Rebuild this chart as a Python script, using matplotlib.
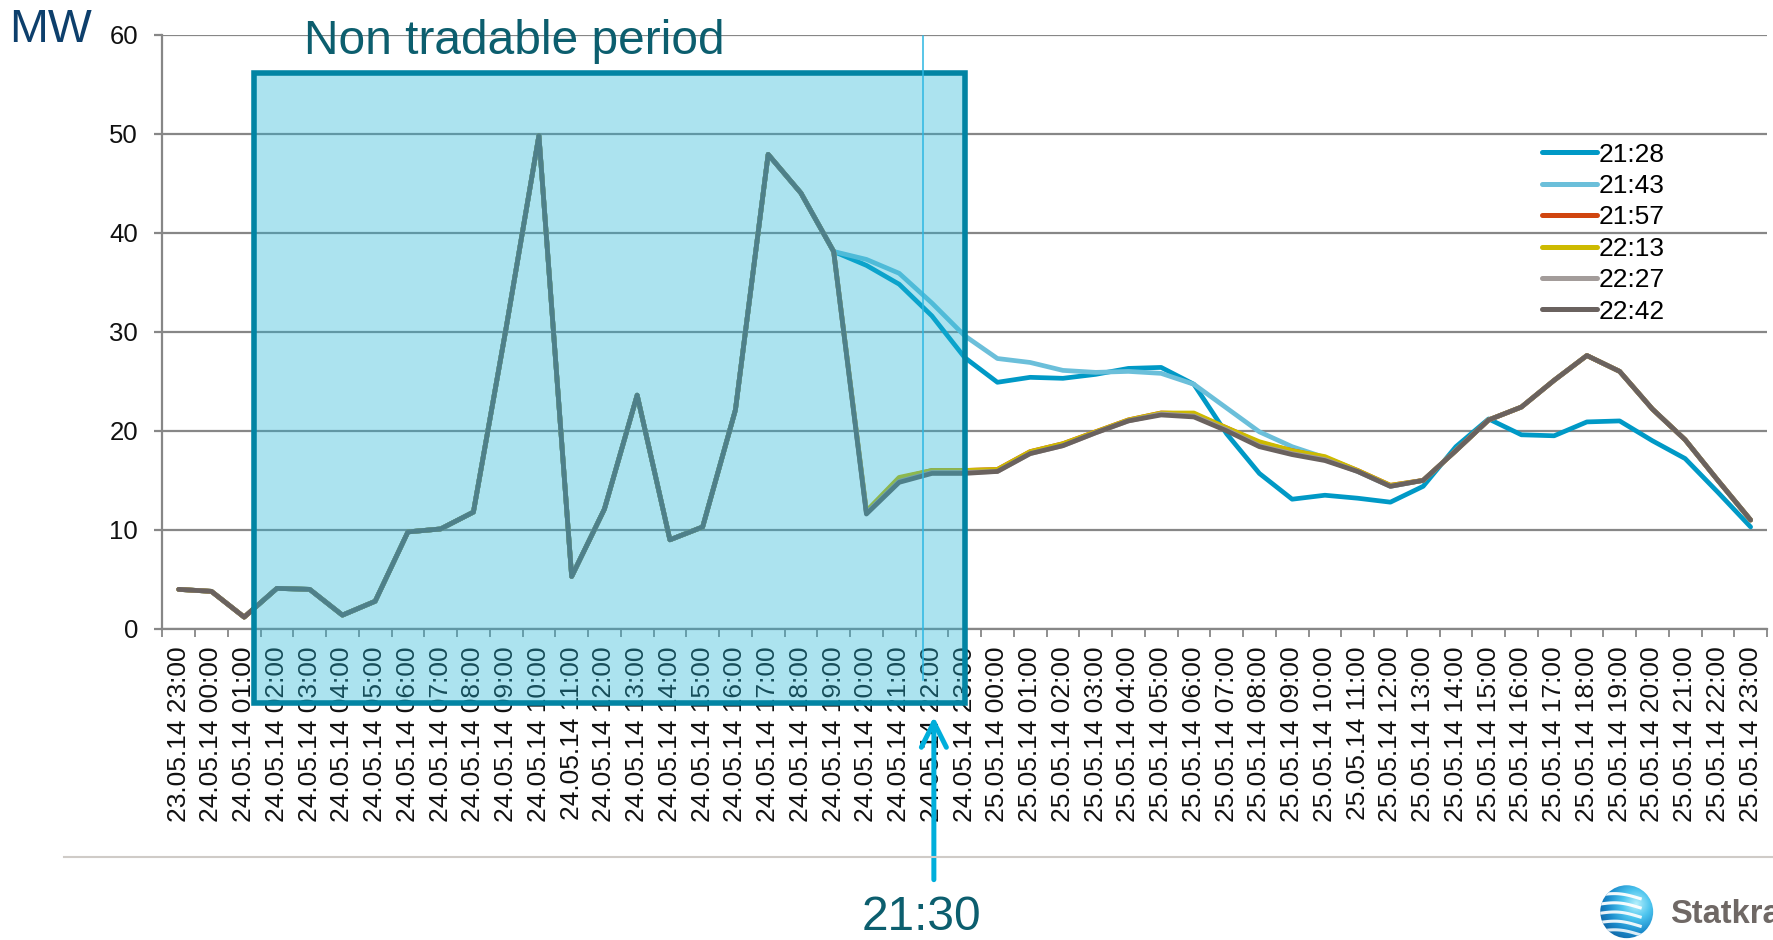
import matplotlib
matplotlib.use('Agg')
import matplotlib.pyplot as plt
import numpy as np
from matplotlib.patches import Rectangle, Circle
from matplotlib.colors import LinearSegmentedColormap

plt.rcParams['font.family'] = ['Liberation Sans', 'DejaVu Sans']

# ---------------- data ----------------
time_labels = (['23.05.14 23:00']
               + ['24.05.14 %02d:00' % h for h in range(24)]
               + ['25.05.14 %02d:00' % h for h in range(24)])

series_names = ['21:28', '21:43', '21:57', '22:13', '22:27', '22:42']
series_colors = ['#0099C6', '#6BBFDA', '#D0450F', '#CDBA00', '#A39C9A', '#6A625F']

s_2128 = [4.0, 3.8, 1.2, 4.1, 4.0, 1.4, 2.8, 9.8, 10.1, 11.8, 30.4, 49.8, 5.3, 12.1,
          23.6, 9.0, 10.3, 22.1, 47.9, 44.0, 38.1,
          36.7, 34.8, 31.6, 27.4, 24.9, 25.4, 25.3, 25.7, 26.3, 26.4, 24.7, 19.7, 15.7,
          13.1, 13.5, 13.2, 12.8, 14.4, 18.4, 21.2, 19.6, 19.5, 20.9, 21.0, 19.0, 17.2,
          13.8, 10.3]
s_2143 = [4.0, 3.8, 1.2, 4.1, 4.0, 1.4, 2.8, 9.8, 10.1, 11.8, 30.4, 49.8, 5.3, 12.1,
          23.6, 9.0, 10.3, 22.1, 47.9, 44.0, 38.1,
          37.3, 35.9, 32.9, 29.6, 27.3, 26.9, 26.1, 25.9, 26.0, 25.8, 24.7, 22.3, 19.9,
          18.4, 17.3, 15.9, 14.4, 15.0, 18.0, 21.1, 22.4, 25.1, 27.6, 26.0, 22.2, 19.1,
          15.0, 11.0]
s_2157 = [4.0, 3.8, 1.2, 4.1, 4.0, 1.4, 2.8, 9.8, 10.1, 11.8, 30.4, 49.8, 5.3, 12.1,
          23.6, 9.0, 10.3, 22.1, 47.9, 44.0, 38.1,
          11.8, 15.2, 16.0, 16.0, 16.1, 17.9, 18.7, 19.9, 21.1, 21.8, 21.7, 20.3, 18.8,
          18.0, 17.3, 16.0, 14.5, 15.0, 18.0, 21.1, 22.4, 25.1, 27.6, 26.0, 22.2, 19.1,
          15.0, 11.0]
s_2213 = [4.0, 3.8, 1.2, 4.1, 4.0, 1.4, 2.8, 9.8, 10.1, 11.8, 30.4, 49.8, 5.3, 12.1,
          23.6, 9.0, 10.3, 22.1, 47.9, 44.0, 38.1,
          11.9, 15.3, 16.0, 16.0, 16.1, 17.9, 18.7, 19.9, 21.1, 21.8, 21.8, 20.3, 18.9,
          18.0, 17.4, 16.0, 14.5, 15.0, 18.0, 21.1, 22.4, 25.1, 27.6, 26.0, 22.2, 19.1,
          15.0, 11.0]
s_2227 = [4.0, 3.8, 1.2, 4.1, 4.0, 1.4, 2.8, 9.8, 10.1, 11.8, 30.4, 49.8, 5.3, 12.1,
          23.6, 9.0, 10.3, 22.1, 47.9, 44.0, 38.1,
          11.7, 14.9, 15.8, 15.8, 15.9, 17.7, 18.5, 19.8, 21.0, 21.7, 21.5, 20.1, 18.5,
          17.7, 17.1, 15.9, 14.4, 15.0, 18.0, 21.1, 22.4, 25.1, 27.6, 26.0, 22.2, 19.1,
          15.0, 11.0]
s_2242 = [4.0, 3.8, 1.2, 4.1, 4.0, 1.4, 2.8, 9.8, 10.1, 11.8, 30.4, 49.8, 5.3, 12.1,
          23.6, 9.0, 10.3, 22.1, 47.9, 44.0, 38.1,
          11.6, 14.8, 15.7, 15.7, 15.9, 17.7, 18.5, 19.8, 21.0, 21.6, 21.4, 20.0, 18.4,
          17.6, 17.0, 15.9, 14.4, 15.0, 18.0, 21.1, 22.4, 25.1, 27.6, 26.0, 22.2, 19.1,
          15.0, 11.0]
all_series = [s_2128, s_2143, s_2157, s_2213, s_2227, s_2242]

y_ticks = [0, 10, 20, 30, 40, 50, 60]

# annotation geometry (data coordinates)
box_x0, box_x1 = 2.3, 24.0
box_y0, box_y1 = -7.47, 56.1
now_x = 22.74
arrow_x = 23.06

# ---------------- figure ----------------
W, H = 1773, 940
fig = plt.figure(figsize=(W / 100, H / 100), dpi=100)
ax = fig.add_axes([162.3 / W, 1 - 629 / H, (1767 - 162.3) / W, (629 - 34.5) / H])

GRID = '#878787'
x = np.arange(len(time_labels))
for name, vals, col in zip(series_names, all_series, series_colors):
    ax.plot(x, vals, color=col, lw=3.4, label=name, zorder=3,
            solid_joinstyle='round', solid_capstyle='round')

ax.set_xlim(-0.5, len(time_labels) - 0.5)
ax.set_ylim(0, 60)
ax.set_yticks(y_ticks)
ax.yaxis.grid(True, color=GRID, lw=1.6)
ax.set_axisbelow(True)
for s in ['top', 'right']:
    ax.spines[s].set_visible(False)
for s in ['left', 'bottom']:
    ax.spines[s].set_color(GRID)
    ax.spines[s].set_linewidth(1.6)

ax.set_xticks(x)
ax.set_xticklabels(time_labels, rotation=90, fontsize=19, color='#111111')
ax.set_xticks(np.arange(-0.5, len(time_labels), 1), minor=True)
ax.tick_params(axis='x', which='major', length=0, pad=12.5)
ax.tick_params(axis='x', which='minor', length=5.5, width=1.3, color=GRID)
ax.tick_params(axis='y', length=5.5, width=1.6, color=GRID, pad=12, labelsize=18.5,
               labelcolor='#111111')

# legend
leg = ax.legend(loc='upper left', bbox_to_anchor=(1541.7 / W, 1 - 142.6 / H),
                bbox_transform=fig.transFigure, frameon=False, fontsize=19,
                handlelength=2.08, handletextpad=0.09, labelspacing=0.28,
                borderpad=0, borderaxespad=0)
for lh in leg.get_lines():
    lh.set_linewidth(3.6)

# non tradable period box (overlay)
ax.add_patch(Rectangle((box_x0, box_y0), box_x1 - box_x0, box_y1 - box_y0,
                       facecolor='#20B5D6', alpha=0.37, edgecolor='none',
                       zorder=5, clip_on=False))
ax.add_patch(Rectangle((box_x0, box_y0), box_x1 - box_x0, box_y1 - box_y0,
                       fill=False, edgecolor='#0284A3', lw=4, zorder=6,
                       clip_on=False, joinstyle='miter'))

# current time line and arrow
ax.plot([now_x, now_x], [-5.15, 59.8], color='#2BB7E2', lw=1.1, zorder=7, clip_on=False)
ax.annotate('', xy=(arrow_x, -8.85), xytext=(arrow_x, -25.3),
            arrowprops=dict(arrowstyle='->,head_length=0.9,head_width=0.45',
                            color='#00AEDB', lw=3.6, mutation_scale=20,
                            shrinkA=0, shrinkB=0),
            annotation_clip=False, zorder=7)

# texts
fig.text(9 / W, 1 - 42 / H, 'MW', fontsize=33.5, color='#0D3F6C', ha='left', va='baseline')
fig.text(304 / W, 1 - 53.5 / H, 'Non tradable period', fontsize=34.5, color='#0C5E6E',
         ha='left', va='baseline')
fig.text(921.5 / W, 1 - 930 / H, '21:30', fontsize=34.5, color='#0C5E6E',
         ha='center', va='baseline')

# separator line
fig.add_artist(plt.Line2D([64 / W, 1.0], [1 - 856.7 / H, 1 - 856.7 / H],
                          transform=fig.transFigure, color='#CFCBC7', lw=1.5))

# Statkraft logo
lax = fig.add_axes([1599.7 / W, 1.3 / H, 54 / W, 54 / H])
lax.set_xlim(-1, 1)
lax.set_ylim(-1, 1)
lax.axis('off')
yy, xx = np.mgrid[-1:1:200j, -1:1:200j]
rr = np.hypot(xx - 0.35, yy - 0.3)
cmap = LinearSegmentedColormap.from_list('sk', ['#B5F0FC', '#4CC4EE', '#1A8ACB', '#0C5C9C'])
img = lax.imshow(rr, cmap=cmap, extent=(-1, 1, -1, 1), origin='lower', vmin=0, vmax=1.6)
clip = Circle((0, 0), 0.98, transform=lax.transData)
img.set_clip_path(clip)
xs = np.linspace(-1, 0.5, 60)
for c, a in zip([0.62, 0.28, -0.06, -0.40, -0.72], [0.95, 0.95, 0.9, 0.9, 0.85]):
    ys = c + 0.10 * np.sin((xs + 1) * 2.2) - 0.08 * (xs + 1)
    ln, = lax.plot(xs, ys, color='white', lw=2.2, alpha=a)
    ln.set_clip_path(Circle((0, 0), 0.98, transform=lax.transData))
fig.text(1670 / W, 1 - 923.3 / H, 'Statkraft', fontsize=23.5, fontweight='bold',
         color='#6F6865', ha='left', va='baseline')

fig.savefig('out.png', dpi=100)
